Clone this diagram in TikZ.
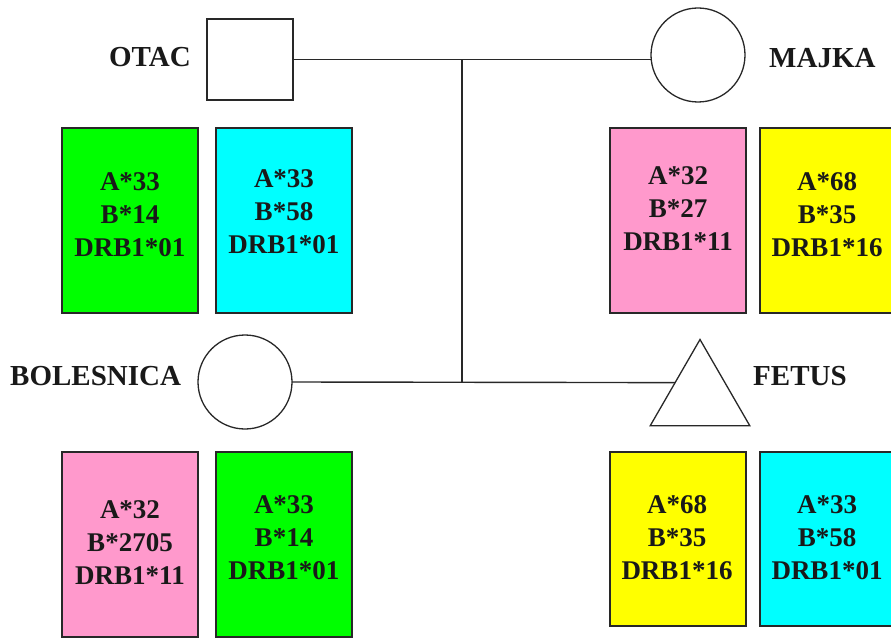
\documentclass[tikz,border=0pt]{standalone}
\usepackage{fontspec}
\setmainfont{Liberation Serif}
\usetikzlibrary{shapes.geometric}
\definecolor{hgreen}{RGB}{0,255,0}
\definecolor{hcyan}{RGB}{0,255,255}
\definecolor{hpink}{RGB}{255,153,204}
\definecolor{hyellow}{RGB}{255,255,0}
\definecolor{edge}{RGB}{40,40,40}
\begin{document}
\begin{tikzpicture}[x=1pt,y=-1pt,
  lbl/.style={font=\fontsize{29}{34}\selectfont\bfseries, inner sep=0pt, text=black!90},
  hla/.style={font=\fontsize{27}{33}\selectfont\bfseries, align=center, inner sep=0pt, text=black!90},
  hbox/.style={draw=edge, line width=1.4pt, rectangle, inner sep=0pt, outer sep=0pt, minimum width=136},
  sym/.style={draw=edge, line width=1.3pt, fill=white, inner sep=0pt, outer sep=0pt},
  conn/.style={draw=edge, line width=1.4pt}]
\useasboundingbox (0,0) rectangle (891,639);
\fill[white] (0,0) rectangle (891,639);

% pedigree symbols
\node[sym, rectangle, minimum width=86, minimum height=81] (otacsq) at (250,59.5) {};
\node[sym, circle, minimum size=94] (majc) at (698,55) {};
\node[sym, circle, minimum size=94] (bolc) at (245,382) {};
\node[sym, regular polygon, regular polygon sides=3, minimum size=115] (fet) at (700,397) {};

% connectors
\coordinate (jt) at (462,59.5);
\coordinate (jb) at (462,383);
\draw[conn] (otacsq.east) -- (otacsq.east -| majc.west);
\draw[conn] (jt) -- (jb);
\draw[conn] (bolc.east) -- (fet.side 1);

% labels
\node[lbl, anchor=base east] (otac) at (191,67) {OTAC};
\node[lbl, anchor=base west] (majka) at (769,68) {MAJKA};
\node[lbl, anchor=base west] (bol) at (10,385) {BOLESNICA};
\node[lbl, anchor=base west] (fetus) at (753,385) {FETUS};

% HLA boxes - top
\node[hbox, fill=hgreen, minimum height=185] (b1) at (130,220.5) {};
\node[hbox, fill=hcyan, minimum height=185] (b2) at (284,220.5) {};
\node[hbox, fill=hpink, minimum height=185] (b3) at (678,220.5) {};
\node[hbox, fill=hyellow, minimum height=185] (b4) at (828,220.5) {};
% HLA boxes - bottom
\node[hbox, fill=hpink, minimum height=185] (b5) at (130,544.5) {};
\node[hbox, fill=hgreen, minimum height=185] (b6) at (284,544.5) {};
\node[hbox, fill=hyellow, minimum height=174] (b7) at (678,539) {};
\node[hbox, fill=hcyan, minimum height=174] (b8) at (828,539) {};

% HLA texts
\node[hla] (t1) at (130,215) {A*33\\B*14\\DRB1*01};
\node[hla] (t2) at (284,212) {A*33\\B*58\\DRB1*01};
\node[hla] (t3) at (678,209) {A*32\\B*27\\DRB1*11};
\node[hla] (t4) at (827,215) {A*68\\B*35\\DRB1*16};
\node[hla] (t5) at (130,543) {A*32\\B*2705\\DRB1*11};
\node[hla] (t6) at (284,538) {A*33\\B*14\\DRB1*01};
\node[hla] (t7) at (677,538) {A*68\\B*35\\DRB1*16};
\node[hla] (t8) at (827,538) {A*33\\B*58\\DRB1*01};
\end{tikzpicture}
\end{document}
